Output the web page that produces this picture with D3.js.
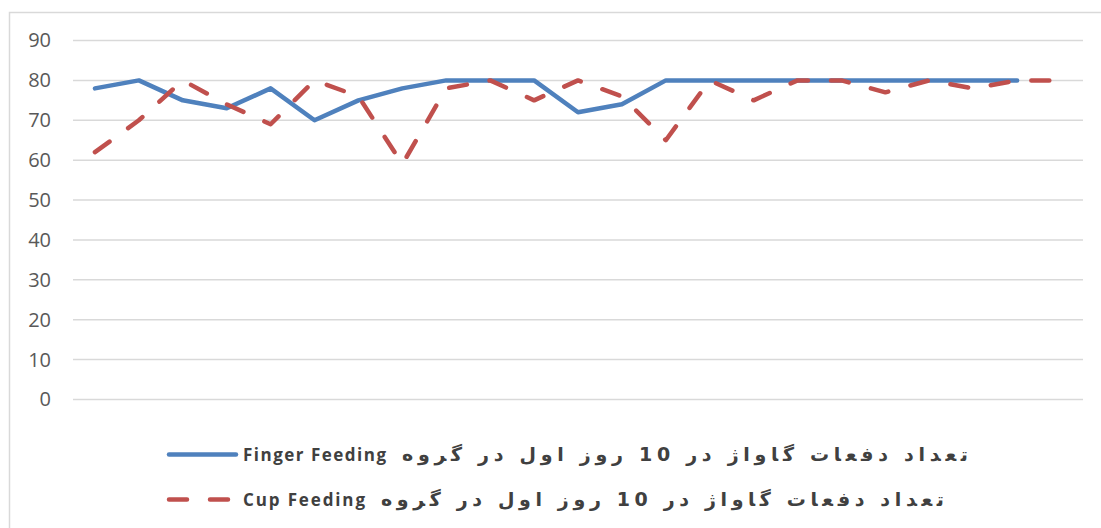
<!DOCTYPE html>
<html>
<head>
<meta charset="utf-8">
<script src="https://cdn.jsdelivr.net/npm/d3@7"></script>
<style>
  body { margin: 0; background: #fff; }
  svg { display: block; }
  .tick-label { font-family: "Open Sans", sans-serif; font-size: 20px; fill: #595959; }
  .legend-en { font-family: "Open Sans", sans-serif; font-size: 17px; font-weight: bold; fill: #404040; }
  .legend-fa { font-family: "DejaVu Sans", sans-serif; font-size: 19px; font-weight: bold; fill: #404040; }
</style>
</head>
<body>
<div id="chart"></div>
<script>
// --- data ---
const days = d3.range(1, 24).map(String);
const fingerFeeding = [78, 80, 75, 73, 78, 70, 75, 78, 80, 80, 80, 72, 74, 80, 80, 80, 80, 80, 80, 80, 80, 80, null];
const cupFeeding = [62, 70, 80, 74, 69, 80, 76, 59, 78, 80, 75, 80, 76, 65, 80, 75, 80, 80, 77, 80, 78, 80, 80];
const yTicks = [0, 10, 20, 30, 40, 50, 60, 70, 80, 90];
const seriesNames = [
  { fa: "تعداد دفعات گاواژ در 10 روز اول در گروه", en: "Finger Feeding" },
  { fa: "تعداد دفعات گاواژ در 10 روز اول در گروه", en: "Cup Feeding" }
];

// --- sizing ---
const width = 1101, height = 528;
const plot = { left: 73, right: 1083, top: 40.5, bottom: 399.5 };

const svg = d3.select("#chart")
  .append("svg")
  .attr("width", width)
  .attr("height", height);

// chart area border (only top/left are in frame)
svg.append("path")
  .attr("d", `M9.5,${height} V12.5 H${width}`)
  .attr("fill", "none")
  .attr("stroke", "#d9d9d9")
  .attr("stroke-width", 1.5);

// --- scales ---
const x = d3.scalePoint()
  .domain(days)
  .range([plot.left, plot.right])
  .padding(0.5);

const y = d3.scaleLinear()
  .domain([0, 90])
  .range([plot.bottom, plot.top]);

// gridlines
svg.append("g")
  .attr("class", "grid")
  .selectAll("line")
  .data(yTicks)
  .enter().append("line")
  .attr("x1", plot.left)
  .attr("x2", plot.right)
  .attr("y1", d => y(d))
  .attr("y2", d => y(d))
  .attr("stroke", "#d9d9d9")
  .attr("stroke-width", 1.5);

// y axis labels
const yAxis = d3.axisLeft(y)
  .tickValues(yTicks)
  .tickSize(0)
  .tickPadding(0);

svg.append("g")
  .attr("transform", `translate(51, 0)`)
  .call(yAxis)
  .call(g => g.select(".domain").remove())
  .call(g => g.selectAll("text")
    .attr("class", "tick-label")
    .attr("font-family", null)
    .attr("font-size", null)
    .attr("fill", null));

// --- lines ---
const line = d3.line()
  .defined(d => d.v != null)
  .x(d => x(d.day))
  .y(d => y(d.v));

const series = [
  { values: fingerFeeding, color: "#4f81bd", dash: null },
  { values: cupFeeding, color: "#c0504d", dash: "18,23" }
];

svg.append("g")
  .attr("class", "lines")
  .selectAll("path")
  .data(series)
  .enter().append("path")
  .attr("d", s => line(s.values.map((v, i) => ({ day: days[i], v: v }))))
  .attr("fill", "none")
  .attr("stroke", s => s.color)
  .attr("stroke-width", 4.5)
  .attr("stroke-linejoin", "round")
  .attr("stroke-linecap", "round")
  .attr("stroke-dasharray", s => s.dash);

// --- legend ---
// Persian label spans are stretched to the width they take in the source
const legendRows = [
  { y: 454.5, enWidth: 143, faStart: 402, faEnd: 968 },
  { y: 499.5, enWidth: 122, faStart: 381, faEnd: 944 }
];

const legend = svg.append("g")
  .attr("class", "legend")
  .selectAll("g")
  .data(series)
  .enter().append("g")
  .attr("transform", (d, i) => `translate(0, ${legendRows[i].y})`);

legend.append("line")
  .attr("x1", 169)
  .attr("x2", 236)
  .attr("stroke", d => d.color)
  .attr("stroke-width", 4.5)
  .attr("stroke-linecap", "round")
  .attr("stroke-dasharray", d => d.dash);

legend.append("text")
  .attr("class", "legend-en")
  .attr("x", 243)
  .attr("y", 6)
  .attr("textLength", (d, i) => legendRows[i].enWidth)
  .attr("lengthAdjust", "spacing")
  .text((d, i) => seriesNames[i].en);

legend.append("text")
  .attr("class", "legend-fa")
  .attr("x", (d, i) => legendRows[i].faEnd)
  .attr("y", 6)
  .attr("direction", "rtl")
  .attr("text-anchor", "start")
  .attr("textLength", (d, i) => legendRows[i].faEnd - legendRows[i].faStart)
  .attr("lengthAdjust", "spacing")
  .text((d, i) => seriesNames[i].fa);
</script>
</body>
</html>
